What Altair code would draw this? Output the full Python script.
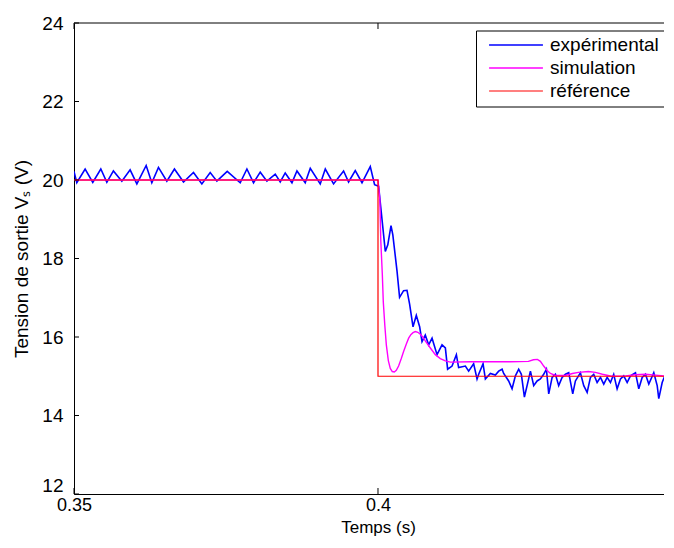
import altair as alt
import pandas as pd

# ---------------- data ----------------
series = ["expérimental", "simulation", "référence"]
colors = ["#0000ff", "#ff00ff", "#ff0000"]
widths = [1.6, 1.2, 1.5]

t_exp = [0.35000, 0.35046, 0.35183, 0.35309, 0.35441, 0.35540, 0.35648, 0.35787, 0.35923, 0.36034,
         0.36187, 0.36280, 0.36389, 0.36527, 0.36652, 0.36801, 0.36965, 0.37103, 0.37240, 0.37350,
         0.37520, 0.37734, 0.37844, 0.37953, 0.38063, 0.38173, 0.38310, 0.38392, 0.38474, 0.38585,
         0.38667, 0.38803, 0.38886, 0.39050, 0.39133, 0.39269, 0.39434, 0.39516, 0.39626, 0.39737,
         0.39873, 0.39944, 0.40000,
         0.40010, 0.40120, 0.40161, 0.40214, 0.40244, 0.40313, 0.40355, 0.40421, 0.40477, 0.40520,
         0.40576, 0.40630, 0.40685, 0.40724, 0.40778, 0.40833, 0.40889, 0.40971, 0.41053, 0.41108,
         0.41145, 0.41218, 0.41289, 0.41326, 0.41437, 0.41491, 0.41573, 0.41629, 0.41656, 0.41728,
         0.41766, 0.41848, 0.41930, 0.41985, 0.42041, 0.42067, 0.42149, 0.42205, 0.42260, 0.42314,
         0.42358, 0.42408, 0.42452, 0.42507, 0.42561, 0.42617, 0.42671, 0.42725, 0.42770, 0.42808,
         0.42864, 0.42918, 0.42972, 0.43028, 0.43083, 0.43137, 0.43203, 0.43247, 0.43329, 0.43384,
         0.43440, 0.43494, 0.43548, 0.43604, 0.43659, 0.43713, 0.43769, 0.43823, 0.43877, 0.43933,
         0.43988, 0.44042, 0.44098, 0.44152, 0.44235, 0.44289, 0.44345, 0.44399, 0.44454, 0.44536,
         0.44592, 0.44618, 0.44674, 0.44728, 0.44783, 0.44839, 0.44865]
v_exp = [20.22, 19.93, 20.28, 19.94, 20.28, 19.94, 20.23, 19.97, 20.26, 19.90,
         20.37, 19.93, 20.32, 19.97, 20.28, 19.95, 20.19, 19.90, 20.19, 19.97,
         20.22, 19.93, 20.28, 19.93, 20.20, 19.97, 20.15, 19.95, 20.18, 19.93,
         20.23, 19.93, 20.30, 19.90, 20.28, 19.90, 20.23, 19.95, 20.24, 19.93,
         20.34, 19.88, 19.85,
         19.84, 18.18, 18.35, 18.84, 18.60, 17.68, 17.01, 17.18, 17.19, 16.84,
         16.26, 16.55, 16.26, 15.88, 16.05, 15.80, 15.97, 15.55, 15.80, 15.72,
         15.18, 15.26, 15.55, 15.22, 15.26, 15.13, 15.32, 14.93, 15.05, 15.32,
         14.93, 15.07, 15.03, 15.13, 15.18, 15.07, 14.88, 14.68, 15.01, 15.18,
         15.05, 14.47, 14.76, 15.13, 14.76, 14.88, 14.93, 15.05, 15.18, 14.55,
         14.97, 15.05, 14.76, 14.97, 15.05, 15.09, 14.55, 14.88, 15.09, 14.76,
         14.59, 14.97, 15.05, 14.84, 14.97, 14.80, 14.97, 14.84, 15.05, 14.68,
         14.93, 15.01, 14.84, 15.01, 15.09, 14.68, 14.97, 15.05, 14.80, 15.09,
         14.76, 14.43, 14.84, 15.05, 14.97, 14.80, 14.63]

t_sim = [0.35000, 0.40000, 0.40030, 0.40046, 0.40071, 0.40087, 0.40112, 0.40137, 0.40170, 0.40202,
         0.40235, 0.40268, 0.40301, 0.40339, 0.40383, 0.40421, 0.40466, 0.40504, 0.40540, 0.40576,
         0.40614, 0.40655, 0.40696, 0.40737, 0.40778, 0.40861, 0.40943, 0.41025, 0.41108, 0.41190,
         0.41519, 0.42177, 0.42474, 0.42556, 0.42622, 0.42671, 0.42725, 0.42786, 0.42836, 0.42918,
         0.43083, 0.43198, 0.43296, 0.43461, 0.43576, 0.43691, 0.43839, 0.44070, 0.44235, 0.44399,
         0.44564, 0.44728, 0.45000]
v_sim = [20.00, 20.00, 19.50, 18.45, 17.60, 16.90, 16.30, 15.80, 15.40, 15.20,
         15.12, 15.11, 15.15, 15.26, 15.45, 15.63, 15.82, 15.97, 16.06, 16.11,
         16.14, 16.12, 16.07, 16.00, 15.90, 15.72, 15.55, 15.45, 15.39, 15.36,
         15.37, 15.37, 15.38, 15.42, 15.43, 15.38, 15.26, 15.14, 15.07, 15.02,
         15.02, 15.07, 15.10, 15.12, 15.10, 15.05, 15.00, 15.01, 15.04, 15.05,
         15.03, 15.00, 15.00]

t_ref = [0.35, 0.40, 0.40, 0.45]
v_ref = [20.0, 20.0, 15.0, 15.0]

# visible part of the x range (the reference is cut at the right edge)
x_domain = [0.35, 0.44704]
y_domain = [12, 24]
x_tick_labels = [0.35, 0.40]
y_ticks = [12, 14, 16, 18, 20, 22, 24]

# ---------------- chart ----------------
FONT = "Liberation Sans"
W, H = 590, 471

# keys sort in drawing order (référence drawn last, on top, as in the reference)
keys = ["1", "2", "3"]


def frame(t, v, key):
    return pd.DataFrame({"t": t, "v": v, "k": key, "i": list(range(len(t)))})


lines_df = pd.concat([frame(t_exp, v_exp, keys[0]),
                      frame(t_sim, v_sim, keys[1]),
                      frame(t_ref, v_ref, keys[2])], ignore_index=True)

label_expr = "{" + ", ".join(f"'{k}': '{s}'" for k, s in zip(keys, series)) + "}[datum.label]"

xs = alt.Scale(domain=x_domain, nice=False, zero=False)
ys = alt.Scale(domain=y_domain, nice=False, zero=False)

x_axis = alt.Axis(values=x_tick_labels, format="~g", ticks=False, grid=False,
                  domainColor="black", domainWidth=1, labelColor="black",
                  labelFont=FONT, labelFontSize=18, labelPadding=2,
                  labelFlush=False, labelOverlap=False,
                  title="Temps (s)", titleFont=FONT, titleFontSize=17,
                  titleFontWeight="normal", titleColor="black",
                  titleBaseline="alphabetic", titleY=38, titleX=304)
y_axis = alt.Axis(values=y_ticks, format="d", ticks=False, grid=False,
                  domainColor="black", domainWidth=1, labelColor="black",
                  labelFont=FONT, labelFontSize=19, labelPadding=11,
                  labelOffset={"condition": {"test": "datum.value == 12", "value": -9}, "value": 0},
                  labelFlush=False, labelOverlap=False,
                  title="Tension de sortie Vₛ (V)", titleFont=FONT, titleFontSize=19,
                  titleFontWeight="normal", titleColor="black",
                  titleAngle=270, titleAlign="center", titleBaseline="alphabetic",
                  titleX=-47, titleY=H / 2)

legend = alt.Legend(orient="none", legendX=402, legendY=7.5, title=None,
                    labelExpr=label_expr,
                    strokeColor="black", fillColor="white", padding=5,
                    symbolType="stroke", symbolSize=2900, symbolStrokeWidth=1.3,
                    symbolOffset=7, labelOffset=6, labelFont=FONT, labelFontSize=19,
                    labelColor="black", rowPadding=3, clipHeight=19, labelLimit=300)

X = alt.X("t:Q", scale=xs, axis=x_axis)
Y = alt.Y("v:Q", scale=ys, axis=y_axis)

lines = alt.Chart(lines_df).mark_line(clip=True).encode(
    x=X, y=Y,
    color=alt.Color("k:N", scale=alt.Scale(domain=keys, range=colors), legend=legend),
    strokeWidth=alt.StrokeWidth("k:N", scale=alt.Scale(domain=keys, range=widths), legend=None),
    order=alt.Order("i:Q"),
)

# top border and inward ticks, drawn in data units
dx = (x_domain[1] - x_domain[0]) * 5 / W
dy = (y_domain[1] - y_domain[0]) * 6 / H
tick_rows = [{"t": x_domain[0], "t2": x_domain[1], "v": y_domain[1], "v2": y_domain[1]}]
for xv in x_tick_labels:
    tick_rows.append({"t": xv, "t2": xv, "v": y_domain[0], "v2": y_domain[0] + dy})
    tick_rows.append({"t": xv, "t2": xv, "v": y_domain[1], "v2": y_domain[1] - dy})
for yv in y_ticks:
    tick_rows.append({"t": x_domain[0], "t2": x_domain[0] + dx, "v": yv, "v2": yv})
ticks_df = pd.DataFrame(tick_rows)

ticks = alt.Chart(ticks_df).mark_rule(color="black", strokeWidth=1).encode(
    x=X, x2="t2:Q", y=Y, y2="v2:Q")

chart = alt.layer(lines, ticks).properties(
    width=W, height=H, autosize="none",
    padding={"left": 66, "top": 15, "right": 0, "bottom": 42},
    background="white",
).configure_view(strokeWidth=0)

chart.save("out.html", embed_options={"renderer": "svg", "actions": False})
